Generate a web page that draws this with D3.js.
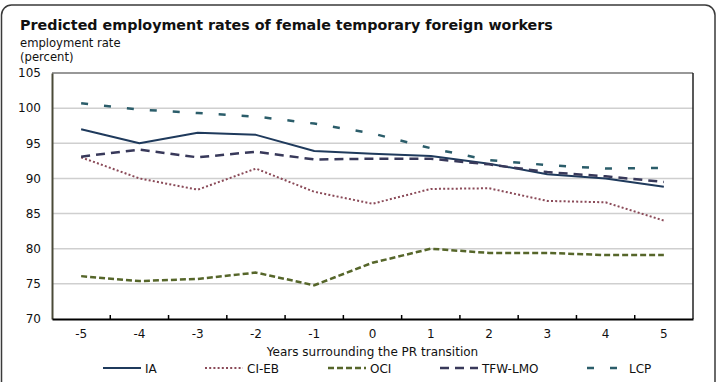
<!DOCTYPE html>
<html>
<head>
<meta charset="utf-8">
<script src="https://cdn.jsdelivr.net/npm/d3@7"></script>
<style>
  html, body { margin: 0; padding: 0; background: #fff; }
  svg { display: block; }
  text { font-family: "DejaVu Sans", Verdana, sans-serif; fill: #111; }
</style>
</head>
<body>
<script>
// ---- data ----
const years = [-5, -4, -3, -2, -1, 0, 1, 2, 3, 4, 5];
const seriesNames = ["IA", "CI-EB", "OCI", "TFW-LMO", "LCP"];
const IA     = [97.0, 95.0, 96.5, 96.2, 93.9, 93.5, 93.2, 92.1, 90.6, 90.0, 88.8];
const CI_EB  = [93.0, 90.0, 88.4, 91.4, 88.1, 86.4, 88.5, 88.6, 86.8, 86.6, 84.0];
const OCI    = [76.1, 75.4, 75.7, 76.6, 74.8, 78.0, 80.0, 79.4, 79.4, 79.1, 79.1];
const TFW_LMO= [93.1, 94.1, 93.0, 93.8, 92.7, 92.8, 92.8, 92.0, 90.9, 90.3, 89.5];
const LCP    = [100.7, 99.8, 99.3, 98.8, 97.8, 96.4, 94.3, 92.6, 91.9, 91.4, 91.5];
const yTicks = [70, 75, 80, 85, 90, 95, 100, 105];
const titleText = "Predicted employment rates of female temporary foreign workers";
const yTitle = ["employment rate", "(percent)"];
const xTitle = "Years surrounding the PR transition";

// ---- styles ----
const styles = {
  "IA":      { color: "#1f3a5c", width: 2,   dash: null },
  "CI-EB":   { color: "#8a4a58", width: 2,   dash: "2,2.2" },
  "OCI":     { color: "#56662a", width: 2.5, dash: "6,3" },
  "TFW-LMO": { color: "#38395a", width: 2.5, dash: "9,6" },
  "LCP":     { color: "#2b5d6a", width: 2.5, dash: "7,16" }
};
const seriesValues = [IA, CI_EB, OCI, TFW_LMO, LCP];

const W = 721, H = 382;
const m = { left: 52, right: 693, top: 73, bottom: 319 };

const svg = d3.select("body").append("svg").attr("width", W).attr("height", H);

// outer rounded border
svg.append("rect")
  .attr("x", 1.5).attr("y", 5).attr("width", 713.5).attr("height", 400)
  .attr("rx", 10).attr("ry", 10)
  .attr("fill", "none").attr("stroke", "#3a3a3a").attr("stroke-width", 1.5);

const x = d3.scaleBand().domain(years).range([m.left, m.right]).padding(0);
const y = d3.scaleLinear().domain([70, 105]).range([m.bottom, m.top]);

// gridlines
svg.append("g").selectAll("line").data(yTicks.filter(t => t > 70 && t < 105)).join("line")
  .attr("x1", m.left).attr("x2", m.right)
  .attr("y1", d => y(d)).attr("y2", d => y(d))
  .attr("stroke", "#cfcfcf").attr("stroke-width", 1.5);

// frame top & right
svg.append("line").attr("x1", m.left).attr("x2", m.right).attr("y1", y(105)).attr("y2", y(105))
  .attr("stroke", "#333").attr("stroke-width", 1.2);
svg.append("line").attr("x1", m.right).attr("x2", m.right).attr("y1", m.top).attr("y2", m.bottom)
  .attr("stroke", "#222").attr("stroke-width", 1.5);

// y axis
const yAxis = svg.append("g").attr("transform", `translate(${m.left},0)`)
  .call(d3.axisLeft(y).tickValues(yTicks).tickSize(0).tickPadding(11));
yAxis.select(".domain").attr("stroke", "#4a4a38").attr("stroke-width", 2);
yAxis.selectAll("text").style("font-size", "12px").style("font-family", '"DejaVu Sans", Verdana, sans-serif').attr("fill", "#111");

// x axis
const xAxis = svg.append("g").attr("transform", `translate(0,${m.bottom})`)
  .call(d3.axisBottom(x).tickSize(0).tickPadding(10));
xAxis.select(".domain").attr("stroke", "#000").attr("stroke-width", 2.2);
xAxis.selectAll("text").style("font-size", "12px").style("font-family", '"DejaVu Sans", Verdana, sans-serif').attr("fill", "#111");
// tick marks at band boundaries, pointing up
const boundaries = years.slice(1).map(d => x(d));
svg.append("g").selectAll("line").data(boundaries).join("line")
  .attr("x1", d => d).attr("x2", d => d)
  .attr("y1", m.bottom).attr("y2", m.bottom - 4)
  .attr("stroke", "#000").attr("stroke-width", 1.5);

// lines
const line = d3.line()
  .x((d, i) => x(years[i]) + x.bandwidth() / 2)
  .y(d => y(d));

seriesNames.forEach((name, k) => {
  const s = styles[name];
  svg.append("path")
    .datum(seriesValues[k])
    .attr("d", line)
    .attr("fill", "none")
    .attr("stroke", s.color)
    .attr("stroke-width", s.width)
    .attr("stroke-dasharray", s.dash)
    .attr("stroke-linejoin", "round");
});

// title
svg.append("text").attr("x", 20).attr("y", 30)
  .style("font-size", "14.3px").style("font-weight", "bold").text(titleText);
svg.selectAll(".ytitle").data(yTitle).join("text")
  .attr("x", 20).attr("y", (d, i) => 47 + i * 14)
  .style("font-size", "11.6px").text(d => d);

// x axis title
svg.append("text").attr("x", (m.left + m.right) / 2).attr("y", 356)
  .attr("text-anchor", "middle").style("font-size", "12px").text(xTitle);

// legend
const legendX = [103, 205, 328, 440, 587];
const lg = svg.append("g");
seriesNames.forEach((name, k) => {
  const s = styles[name];
  const g = lg.append("g").attr("transform", `translate(${legendX[k]},368)`);
  g.append("line").attr("x1", 0).attr("x2", 38).attr("y1", 0).attr("y2", 0)
    .attr("stroke", s.color).attr("stroke-width", s.width)
    .attr("stroke-dasharray", s.dash);
  g.append("text").attr("x", 42).attr("y", 4.5).style("font-size", "12px").text(name);
});
</script>
</body>
</html>
